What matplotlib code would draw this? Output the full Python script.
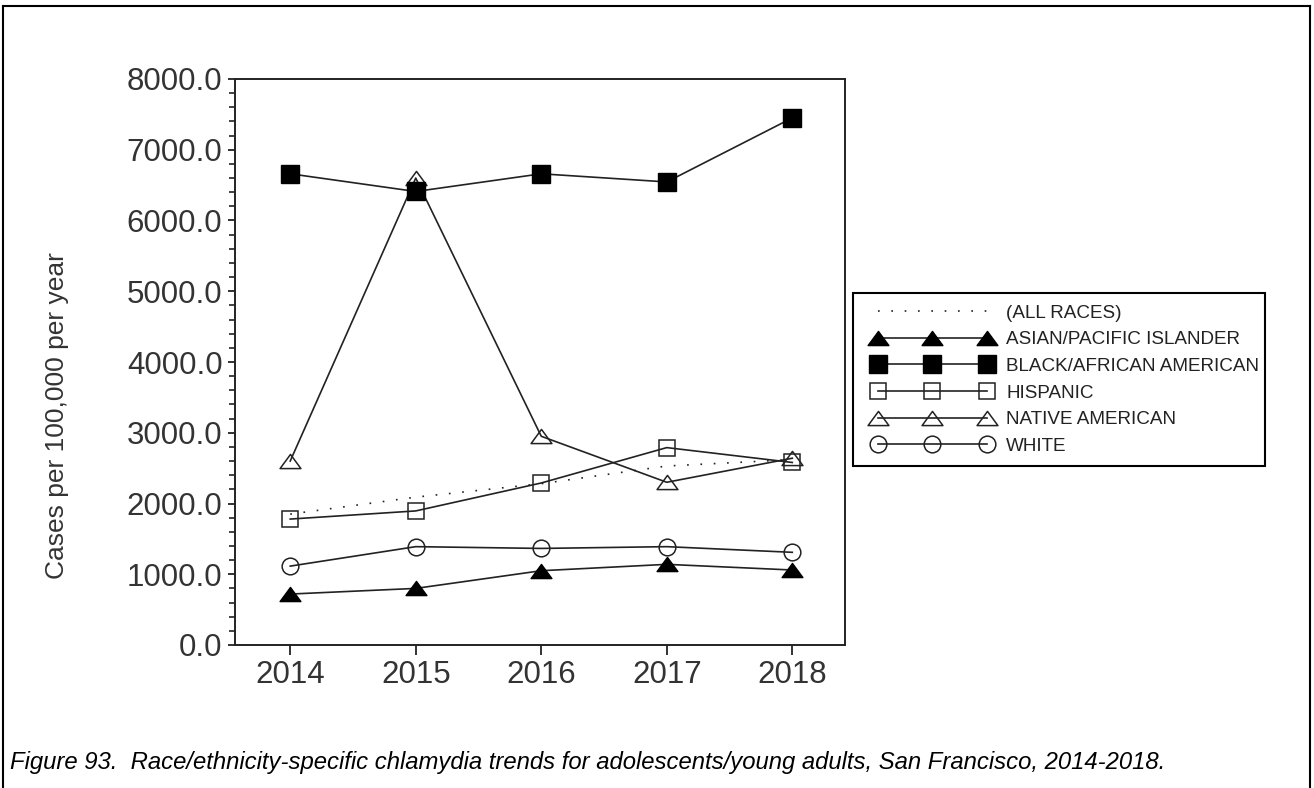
import matplotlib
matplotlib.use("Agg")
import matplotlib.pyplot as plt
from matplotlib.lines import Line2D
from matplotlib.path import Path
from matplotlib.legend_handler import HandlerLine2D

plt.rcParams['font.family'] = ['Liberation Sans', 'DejaVu Sans']

years = [2014, 2015, 2016, 2017, 2018]
all_races = [1850, 2090, 2280, 2530, 2620]
asian = [720, 800, 1050, 1140, 1060]
black = [6660, 6410, 6660, 6545, 7450]
hispanic = [1780, 1895, 2290, 2790, 2580]
native = [2600, 6600, 2950, 2300, 2640]
white = [1115, 1390, 1365, 1390, 1310]

W, H = 1314, 788
fig = plt.figure(figsize=(W / 100, H / 100), dpi=100)
ax = fig.add_axes([235 / W, 1 - 645 / H, 610 / W, 566 / H])

lc = '#222222'
# flat triangle, closed so the open version gets all three sides
tri = Path([(-1, -0.68), (1, -0.68), (0, 0.68), (0, 0)], closed=True)

ax.plot(years, all_races, color=lc, lw=1.2, linestyle=(0, (1, 7)), label='(ALL RACES)', zorder=2)
ax.plot(years, asian, color=lc, lw=1.2, marker=tri, ms=15, mfc='black', mec='black',
        label='ASIAN/PACIFIC ISLANDER', zorder=3)
ax.plot(years, native, color=lc, lw=1.2, marker=tri, ms=15, mfc='none', mec=lc, mew=1.1,
        label='NATIVE AMERICAN', zorder=3)
ax.plot(years, black, color=lc, lw=1.2, marker='s', ms=12.5, mfc='black', mec='black',
        label='BLACK/AFRICAN AMERICAN', zorder=4)
ax.plot(years, hispanic, color=lc, lw=1.2, marker='s', ms=11.5, mfc='none', mec=lc, mew=1.1,
        label='HISPANIC', zorder=3)
ax.plot(years, white, color=lc, lw=1.2, marker='o', ms=12, mfc='none', mec=lc, mew=1.1,
        label='WHITE', zorder=3)

ax.set_xlim(2013.56, 2018.42)
ax.set_ylim(0, 8000)
ax.set_xticks(years)
ax.set_yticks(range(0, 8001, 1000))
ax.set_yticks(range(0, 8001, 200), minor=True)
ax.set_yticklabels(['%.1f' % v for v in range(0, 8001, 1000)])
ax.tick_params(axis='both', which='major', labelsize=22.5, labelcolor='#333333',
               color='#222222', width=1.3, direction='out')
ax.tick_params(axis='y', which='major', length=5, pad=4)
ax.tick_params(axis='y', which='minor', length=4, width=1.2, color='#222222')
ax.tick_params(axis='x', which='major', length=7, pad=4)
for s in ax.spines.values():
    s.set_linewidth(1.4)
    s.set_color('#222222')

fig.text(57 / W, 1 - 416 / H, 'Cases per 100,000 per year', rotation=90,
         ha='center', va='center', fontsize=19, color='#333333')

# legend, order as in the reference
h, l = ax.get_legend_handles_labels()
order = ['(ALL RACES)', 'ASIAN/PACIFIC ISLANDER', 'BLACK/AFRICAN AMERICAN',
         'HISPANIC', 'NATIVE AMERICAN', 'WHITE']
hd = dict(zip(l, h))
leg = fig.legend([hd[k] for k in order], order, loc='upper left',
                 bbox_to_anchor=(853 / W, 1 - 462 / H, 412 / W, 169 / H), mode='expand',
                 numpoints=3, handlelength=7.2, handletextpad=0.3, borderpad=0.6,
                 labelspacing=0.5, fontsize=13.6, fancybox=False, framealpha=1,
                 edgecolor='black', borderaxespad=0,
                 handler_map={Line2D: HandlerLine2D(marker_pad=0.7)})
leg.get_frame().set_linewidth(1.5)
for t in leg.get_texts():
    t.set_color('#222222')

# figure border
for xs, ys in [([3, 3], [6, 788]), ([3, 1310], [6, 6]), ([1310, 1310], [6, 788])]:
    fig.add_artist(Line2D([x / W for x in xs], [1 - y / H for y in ys],
                          color='black', lw=1.5, transform=fig.transFigure))

fig.text(10 / W, 1 - 763 / H,
         'Figure 93.  Race/ethnicity-specific chlamydia trends for adolescents/young adults, San Francisco, 2014-2018.',
         ha='left', va='center', fontsize=17.2, style='italic', color='black')

fig.savefig('out.png', dpi=100)
